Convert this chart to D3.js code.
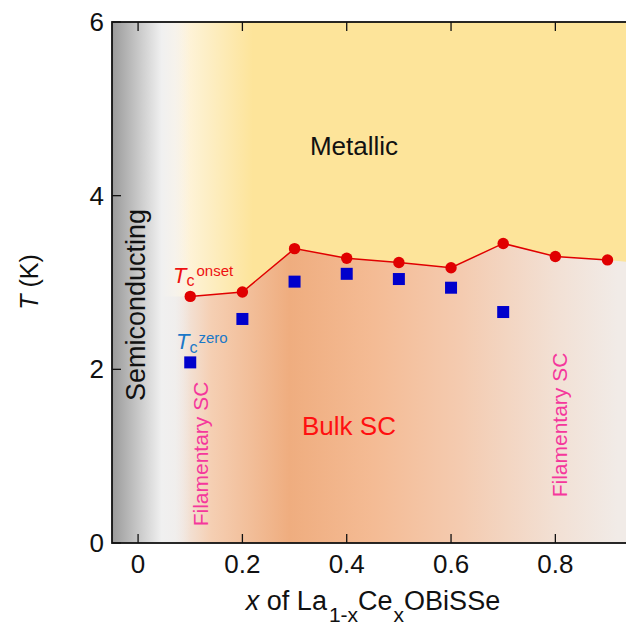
<!DOCTYPE html>
<html>
<head>
<meta charset="utf-8">
<script src="https://cdn.jsdelivr.net/npm/d3@7"></script>
<style>
  body { margin: 0; background: white; }
  svg { display: block; font-family: "Liberation Sans", Arial, sans-serif; }
</style>
</head>
<body>
<div id="chart"></div>
<script>
// data
const xValues = [0.1, 0.2, 0.3, 0.4, 0.5, 0.6, 0.7, 0.8, 0.9];
const tcOnset = [2.84, 2.89, 3.39, 3.28, 3.23, 3.17, 3.45, 3.30, 3.26];
const xZero = [0.1, 0.2, 0.3, 0.4, 0.5, 0.6, 0.7];
const tcZero = [2.08, 2.58, 3.01, 3.10, 3.04, 2.94, 2.66];
const xTicks = [0, 0.2, 0.4, 0.6, 0.8];
const yTicks = [0, 2, 4, 6];

const width = 626, height = 632;
const plotLeft = 112, plotTop = 22, plotBottom = 543;

const x = d3.scaleLinear().domain([-0.05, 0.95]).range([plotLeft, plotLeft + 521.6]);
const y = d3.scaleLinear().domain([0, 6]).range([plotBottom, plotTop]);
const plotRight = x(0.95);

const svg = d3.select("#chart").append("svg")
  .attr("width", width)
  .attr("height", height);

const defs = svg.append("defs");

function grad(id, stops) {
  const g = defs.append("linearGradient")
    .attr("id", id)
    .attr("gradientUnits", "userSpaceOnUse")
    .attr("x1", plotLeft).attr("x2", plotRight)
    .attr("y1", 0).attr("y2", 0);
  stops.forEach(s => {
    g.append("stop")
      .attr("offset", ((x(s[0]) - plotLeft) / (plotRight - plotLeft)))
      .attr("stop-color", s[1])
      .attr("stop-opacity", s[2] == null ? 1 : s[2]);
  });
}

grad("metal", [[-0.05, "#fff6e6"], [0.07, "#fff6e6"], [0.12, "#fdf0cc"], [0.22, "#fde49a"], [0.95, "#fde49a"]]);
grad("sc", [[-0.05, "#f1ece9"], [0.07, "#f1ece9"], [0.14, "#f5cfb3"], [0.29, "#efad7f"], [0.45, "#f4bb94"], [0.62, "#f4cbb0"], [0.8, "#f2e0d4"], [0.92, "#f1ebe7"]]);
grad("semi", [[-0.05, "#9a9a9a", 1], [0.045, "#f0f0f0", 1], [0.07, "#f0f0f0", 0.6], [0.1, "#f0f0f0", 0]]);

const plot = svg.append("g");

// metallic region (whole plot)
plot.append("rect")
  .attr("x", plotLeft).attr("y", plotTop)
  .attr("width", plotRight - plotLeft).attr("height", plotBottom - plotTop)
  .attr("fill", "url(#metal)");

// superconducting region under onset line
const scPts = [[-0.05, tcOnset[0]]]
  .concat(xValues.map((d, i) => [d, tcOnset[i]]))
  .concat([[0.95, tcOnset[tcOnset.length - 1] - 0.03]]);
const area = d3.area()
  .x(d => x(d[0]))
  .y0(y(0))
  .y1(d => y(d[1]));
plot.append("path")
  .datum(scPts)
  .attr("d", area)
  .attr("fill", "url(#sc)");

// semiconducting band
plot.append("rect")
  .attr("x", plotLeft).attr("y", plotTop)
  .attr("width", x(0.1) - plotLeft).attr("height", plotBottom - plotTop)
  .attr("fill", "url(#semi)");

// onset line + points
const line = d3.line().x((d, i) => x(xValues[i])).y(d => y(d));
svg.append("path")
  .datum(tcOnset)
  .attr("d", line)
  .attr("fill", "none")
  .attr("stroke", "#e00000")
  .attr("stroke-width", 1.5);

svg.selectAll("circle.onset")
  .data(tcOnset)
  .join("circle")
  .attr("class", "onset")
  .attr("cx", (d, i) => x(xValues[i]))
  .attr("cy", d => y(d))
  .attr("r", 5.7)
  .attr("fill", "#e00000");

svg.selectAll("rect.zero")
  .data(tcZero)
  .join("rect")
  .attr("class", "zero")
  .attr("x", (d, i) => x(xZero[i]) - 6)
  .attr("y", d => y(d) - 6)
  .attr("width", 12)
  .attr("height", 12)
  .attr("fill", "#0000cc");

// frame
svg.append("rect")
  .attr("x", plotLeft).attr("y", plotTop)
  .attr("width", plotRight - plotLeft).attr("height", plotBottom - plotTop)
  .attr("fill", "none")
  .attr("stroke", "#111")
  .attr("stroke-width", 1.8);

// ticks (inward)
const tickLen = 9;
svg.selectAll("line.xb")
  .data(xTicks)
  .join("line")
  .attr("x1", d => x(d)).attr("x2", d => x(d))
  .attr("y1", plotBottom).attr("y2", plotBottom - tickLen)
  .attr("stroke", "#111").attr("stroke-width", 1.3);
svg.selectAll("line.xt")
  .data(xTicks)
  .join("line")
  .attr("x1", d => x(d)).attr("x2", d => x(d))
  .attr("y1", plotTop).attr("y2", plotTop + tickLen)
  .attr("stroke", "#111").attr("stroke-width", 1.3);
svg.selectAll("line.yl")
  .data(yTicks)
  .join("line")
  .attr("x1", plotLeft).attr("x2", plotLeft + tickLen)
  .attr("y1", d => y(d)).attr("y2", d => y(d))
  .attr("stroke", "#111").attr("stroke-width", 1.3);

// tick labels
svg.selectAll("text.xl")
  .data(xTicks)
  .join("text")
  .attr("x", d => x(d))
  .attr("y", 573)
  .attr("text-anchor", "middle")
  .attr("font-size", 26)
  .attr("fill", "#111")
  .text(d => d === 0 ? "0" : d3.format(".1f")(d));

svg.selectAll("text.yl")
  .data(yTicks)
  .join("text")
  .attr("x", 104)
  .attr("y", d => y(d) + 9)
  .attr("text-anchor", "end")
  .attr("font-size", 26)
  .attr("fill", "#111")
  .text(d => d);

// axis titles
const xt = svg.append("text")
  .attr("x", 373).attr("y", 610)
  .attr("text-anchor", "middle")
  .attr("font-size", 27)
  .attr("fill", "#111");
xt.append("tspan").attr("font-style", "italic").text("x");
xt.append("tspan").text(" of La");
xt.append("tspan").attr("font-size", 21).attr("dx", 2).attr("dy", 12).text("1-x");
xt.append("tspan").attr("dy", -12).text("Ce");
xt.append("tspan").attr("font-size", 21).attr("dx", 1).attr("dy", 12).text("x");
xt.append("tspan").attr("dy", -12).text("OBiSSe");

const yt = svg.append("text")
  .attr("transform", "translate(38,282) rotate(-90)")
  .attr("text-anchor", "middle")
  .attr("font-size", 25)
  .attr("fill", "#111");
yt.append("tspan").attr("font-style", "italic").text("T");
yt.append("tspan").text(" (K)");

// region labels
svg.append("text")
  .attr("x", 354).attr("y", 155)
  .attr("text-anchor", "middle")
  .attr("font-size", 26)
  .attr("fill", "#111")
  .text("Metallic");

svg.append("text")
  .attr("x", 349).attr("y", 435)
  .attr("text-anchor", "middle")
  .attr("font-size", 26)
  .attr("fill", "#ff1010")
  .text("Bulk SC");

svg.append("text")
  .attr("transform", "translate(145,305) rotate(-90)")
  .attr("text-anchor", "middle")
  .attr("font-size", 27)
  .attr("fill", "#111")
  .text("Semiconducting");

[[208, 454], [567, 425]].forEach(p => {
  svg.append("text")
    .attr("transform", `translate(${p[0]},${p[1]}) rotate(-90)`)
    .attr("text-anchor", "middle")
    .attr("font-size", 21)
    .attr("fill", "#f5379c")
    .text("Filamentary SC");
});

// Tc labels
const on = svg.append("text")
  .attr("x", 173).attr("y", 283)
  .attr("font-size", 22)
  .attr("fill", "#ee1111");
on.append("tspan").attr("font-style", "italic").text("T");
on.append("tspan").attr("font-size", 16).attr("dy", 3).text("c");
on.append("tspan").attr("font-size", 15).attr("dx", 2).attr("dy", -10).text("onset");

const ze = svg.append("text")
  .attr("x", 176).attr("y", 349)
  .attr("font-size", 22)
  .attr("fill", "#1a78c8");
ze.append("tspan").attr("font-style", "italic").text("T");
ze.append("tspan").attr("font-size", 16).attr("dy", 4).text("c");
ze.append("tspan").attr("font-size", 15).attr("dx", 1).attr("dy", -10).text("zero");
</script>
</body>
</html>
